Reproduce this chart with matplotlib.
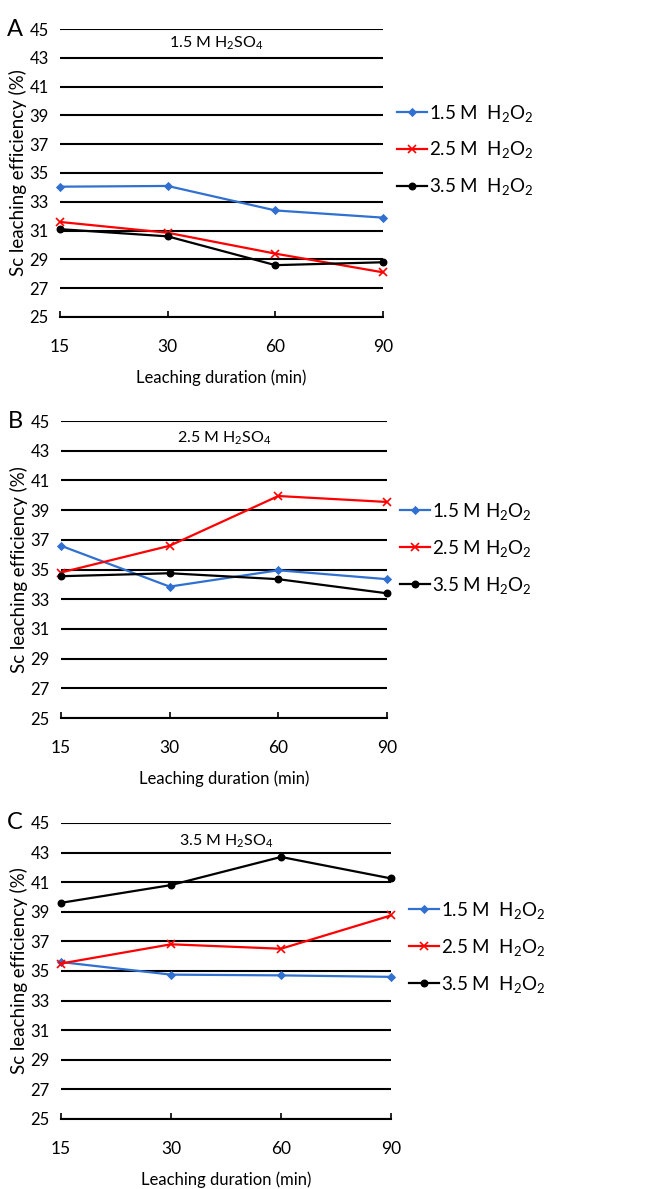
import matplotlib
matplotlib.use("Agg")
import matplotlib.pyplot as plt
import numpy as np

plt.rcParams['font.family'] = ['Lato', 'DejaVu Sans']
plt.rcParams['mathtext.default'] = 'regular'

durations = ['15', '30', '60', '90']
yticks = list(range(25, 46, 2))

# panel A: 1.5 M H2SO4
a_h1 = [34.05, 34.1, 32.4, 31.9]
a_h2 = [31.6, 30.85, 29.4, 28.1]
a_h3 = [31.1, 30.6, 28.6, 28.8]
# panel B: 2.5 M H2SO4
b_h1 = [36.6, 33.85, 34.95, 34.35]
b_h2 = [34.8, 36.6, 39.95, 39.55]
b_h3 = [34.55, 34.75, 34.35, 33.4]
# panel C: 3.5 M H2SO4
c_h1 = [35.6, 34.75, 34.7, 34.6]
c_h2 = [35.5, 36.8, 36.5, 38.75]
c_h3 = [39.6, 40.8, 42.7, 41.25]

panels = [
    ('A', '1.5 M H$_2$SO$_4$', [a_h1, a_h2, a_h3], '  '),
    ('B', '2.5 M H$_2$SO$_4$', [b_h1, b_h2, b_h3], ' '),
    ('C', '3.5 M H$_2$SO$_4$', [c_h1, c_h2, c_h3], '  '),
]
h2o2 = ['1.5 M', '2.5 M', '3.5 M']
colors = ['#3070D0', '#FF0000', '#000000']
markers = ['D', 'x', 'o']
msizes = [3.5, 5.5, 4.5]

# axes boxes in figure fractions [left, bottom, width, height]
boxes = [
    [0.0906, 0.7334, 0.488, 0.2422],
    [0.0921, 0.3961, 0.4924, 0.2498],
    [0.0921, 0.0589, 0.4985, 0.2490],
]
note_pos = [(0.485, 44.0), (0.50, 43.85), (0.50, 43.75)]
leg_anchor = [(1.043, 0.58), (1.04, 0.572), (1.055, 0.58)]

fig = plt.figure(figsize=(6.62, 11.89), dpi=100)

for i, (tag, acid, series, gap) in enumerate(panels):
    ax = fig.add_axes(boxes[i])
    x = np.arange(len(durations))
    for j, vals in enumerate(series):
        ax.plot(x, vals, color=colors[j], marker=markers[j], ms=msizes[j],
                mew=1.2, lw=1.6, clip_on=False, zorder=3,
                label=h2o2[j] + gap + 'H$_2$O$_2$')
    ax.set_xlim(0, 3)
    ax.set_ylim(25, 45)
    ax.set_yticks(yticks)
    ax.set_xticks(x)
    ax.set_xticklabels(durations)
    ax.yaxis.grid(True, color='black', lw=1.5)
    ax.set_axisbelow(True)
    for s in ['top', 'left', 'right']:
        ax.spines[s].set_visible(False)
    ax.spines['bottom'].set_color('black')
    ax.spines['bottom'].set_linewidth(1.5)
    ax.tick_params(axis='y', length=0, pad=8, labelsize=12)
    ax.tick_params(axis='x', direction='in', length=4.5, width=1.2, pad=16, labelsize=12.5)
    ax.set_ylabel('Sc leaching efficiency (%)', fontsize=13.5, labelpad=2)
    ax.set_xlabel('Leaching duration (min)', fontsize=12, labelpad=10)
    ax.text(note_pos[i][0], note_pos[i][1], acid, transform=ax.get_yaxis_transform(),
            ha='center', va='center', fontsize=11.5)
    ax.text(-0.14, 1.0, tag, transform=ax.transAxes, ha='center', va='center', fontsize=17)
    ax.legend(loc='center left', bbox_to_anchor=leg_anchor[i], frameon=False,
              borderaxespad=0, borderpad=0, handlelength=1.6, handletextpad=0.1,
              labelspacing=0.85, fontsize=13.5)

fig.savefig('out.png', dpi=100)
